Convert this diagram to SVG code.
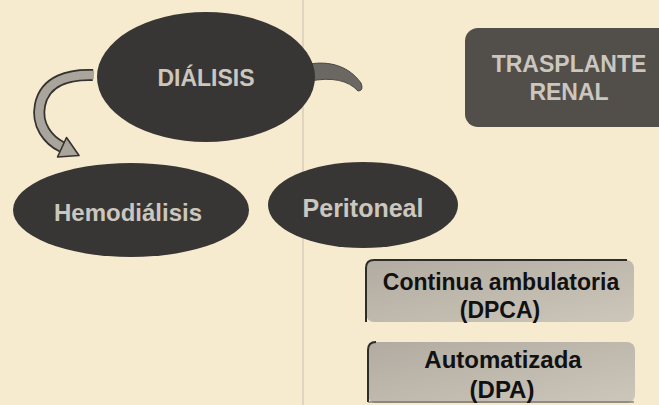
<svg xmlns="http://www.w3.org/2000/svg" width="659" height="405" viewBox="0 0 659 405">
<defs>
<linearGradient id="boxg" x1="0" y1="0" x2="1" y2="1">
<stop offset="0" stop-color="#b1aba1"/>
<stop offset="1" stop-color="#cdc6ba"/>
</linearGradient>
<style>
.oval{fill:#383634;}
.lt{font-family:"Liberation Sans",Arial,sans-serif;font-weight:bold;fill:#cbc7bf;text-anchor:middle;}
.dk{font-family:"Liberation Sans",Arial,sans-serif;font-weight:bold;fill:#111;text-anchor:middle;}
.box{fill:url(#boxg);}
.edge{fill:none;stroke:#2e2c2a;stroke-width:2;}
</style>
</defs>
<rect x="0" y="0" width="659" height="405" fill="#f6eacf"/>
<line x1="303" y1="0" x2="303" y2="405" stroke="#c9bfae" stroke-width="1"/>

<g id="connectors">
<path d="M93,75 C70,74 45,80 40,105 C36,125 48,140 62,147" fill="none" stroke="#35332f" stroke-width="12"/>
<path d="M94,75 C70,74 45,80 40,105 C36,125 48,140 62,147" fill="none" stroke="#aaa59c" stroke-width="8.5"/>
<polygon points="57.5,157 66.5,137.5 79,155.5" fill="#aaa59c" stroke="#35332f" stroke-width="1.6" stroke-linejoin="round"/>
<path d="M310,64 C328,61 348,65 361,83 Q364,91 358,91 C348,80 332,77 310,81 Z" fill="#6b6863" stroke="#4a4844" stroke-width="1"/>
</g>

<g id="dialisis">
<ellipse class="oval" cx="206" cy="77" rx="109" ry="65"/>
<text class="lt" x="206" y="86" font-size="23">DIÁLISIS</text>
</g>

<g id="trasplante">
<rect x="465" y="28" width="215" height="99" rx="13" fill="#524e4a"/>
<text class="lt" x="569" y="72" font-size="23">TRASPLANTE</text>
<text class="lt" x="569" y="100" font-size="23">RENAL</text>
</g>

<g id="hemodialisis">
<ellipse class="oval" cx="131" cy="210" rx="118" ry="47"/>
<text class="lt" x="128" y="221" font-size="24">Hemodiálisis</text>
</g>

<g id="peritoneal">
<ellipse class="oval" cx="363" cy="205" rx="95" ry="43"/>
<text class="lt" x="363" y="217" font-size="25">Peritoneal</text>
</g>

<g id="dpca">
<rect class="box" x="366" y="260" width="268" height="62" rx="8"/>
<path class="edge" d="M366,322 L366,268 Q366,260 374,260 L627,260"/>
<text class="dk" x="501" y="290" font-size="23">Continua ambulatoria</text>
<text class="dk" x="500" y="318" font-size="23">(DPCA)</text>
</g>

<g id="dpa">
<rect class="box" x="368" y="342" width="267" height="61" rx="8"/>
<path class="edge" d="M368,402 L368,350 Q368,342 376,342"/>
<path d="M368,402 L634,402" fill="none" stroke="#5a5550" stroke-width="1.2"/>
<text class="dk" x="503" y="368" font-size="24">Automatizada</text>
<text class="dk" x="502" y="398" font-size="24">(DPA)</text>
</g>
</svg>
